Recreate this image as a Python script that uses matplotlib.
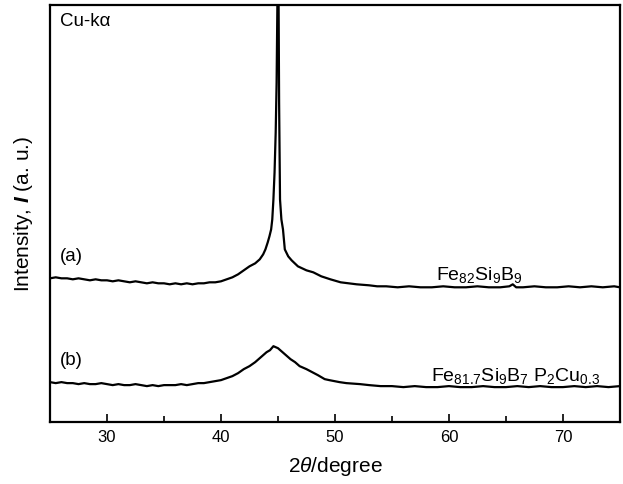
import matplotlib
matplotlib.use("Agg")
import matplotlib.pyplot as plt
from matplotlib.ticker import MultipleLocator

plt.rcParams["font.family"] = ["Liberation Sans", "DejaVu Sans"]
plt.rcParams["mathtext.fontset"] = "custom"
plt.rcParams["mathtext.rm"] = "Liberation Sans"
plt.rcParams["mathtext.it"] = "Liberation Sans:italic"
plt.rcParams["mathtext.bf"] = "Liberation Sans:bold"
plt.rcParams["mathtext.bfit"] = "Liberation Sans:italic:bold"

# XRD pattern (a): Fe82Si9B9, sharp alpha-Fe (110) peak near 45 deg
two_theta_a = [25.0, 25.5, 26.0, 26.5, 27.0, 27.5, 28.0, 28.5, 29.0, 29.5,
               30.0, 30.5, 31.0, 31.5, 32.0, 32.5, 33.0, 33.5, 34.0, 34.5,
               35.0, 35.5, 36.0, 36.5, 37.0, 37.5, 38.0, 38.5, 39.0, 39.5,
               40.0, 40.5, 41.0, 41.5, 42.0, 42.5, 43.0, 43.4, 43.7, 43.9,
               44.1, 44.25, 44.4, 44.5, 44.6, 44.7, 44.8, 44.88, 44.95, 45.0,
               45.05, 45.1, 45.18, 45.3, 45.44, 45.6, 45.9, 46.2, 46.75, 47.5,
               48.1, 48.8, 49.6, 50.5, 51.9, 53.0, 53.7, 54.5, 55.5, 56.5,
               57.5, 58.5, 59.5, 60.5, 61.5, 62.5, 63.5, 64.5, 65.3, 65.6,
               65.9, 66.5, 67.5, 68.5, 69.5, 70.5, 71.5, 72.5, 73.5, 74.5, 75.0]
intensity_a = [144, 145, 144, 144, 143, 144, 143, 142, 143, 142,
               142, 141, 142, 141, 140, 141, 140, 139, 140, 139,
               139, 138, 139, 138, 139, 138, 139, 139, 140, 140,
               141, 143, 145, 148, 152, 156, 159, 163, 168, 173,
               180, 186, 193, 203, 223, 250, 290, 340, 420, 560,
               430, 320, 223, 203, 193, 173, 166, 162, 156, 152,
               150, 146, 143, 140, 138, 137, 136, 136, 135, 136,
               135, 135, 136, 135, 135, 136, 135, 135, 136, 138,
               135, 135, 136, 135, 135, 136, 135, 136, 135, 136, 135]

# XRD pattern (b): Fe81.7Si9B7P2Cu0.3, broad amorphous halo
two_theta_b = [25.0, 25.5, 26.0, 26.5, 27.0, 27.5, 28.0, 28.5, 29.0, 29.5,
               30.0, 30.5, 31.0, 31.5, 32.0, 32.5, 33.0, 33.5, 34.0, 34.5,
               35.0, 35.5, 36.0, 36.5, 37.0, 37.5, 38.0, 38.5, 39.0, 39.5,
               40.0, 40.5, 41.0, 41.5, 42.0, 42.5, 43.0, 43.5, 44.0, 44.3,
               44.6, 44.8, 45.0, 45.4, 45.8, 46.1, 46.5, 46.9, 47.5, 48.0,
               48.5, 49.1, 49.5, 50.4, 51.0, 52.2, 53.0, 54.0, 55.0, 56.0,
               57.0, 58.0, 59.0, 60.0, 61.0, 62.0, 63.0, 64.0, 65.0, 66.0,
               67.0, 68.0, 69.0, 70.0, 71.0, 72.0, 73.0, 74.0, 75.0]
intensity_b = [40, 39, 40, 39, 39, 38, 39, 38, 38, 39,
               38, 37, 38, 37, 37, 38, 37, 36, 37, 36,
               37, 37, 37, 38, 37, 38, 39, 39, 40, 41,
               42, 44, 46, 49, 53, 56, 60, 65, 70, 72,
               76, 75, 74, 70, 66, 63, 60, 56, 53, 50,
               47, 43, 42, 40, 39, 38, 37, 36, 36, 35,
               36, 35, 35, 36, 35, 35, 36, 35, 35, 36,
               35, 36, 35, 35, 36, 35, 36, 35, 36]

major_ticks = [30, 40, 50, 60, 70]

fig = plt.figure(figsize=(6.23, 4.84), dpi=100)
ax = fig.add_axes([0.0803, 0.128, 0.9147, 0.862])

ax.plot(two_theta_a, intensity_a, color="black", lw=1.6)
ax.plot(two_theta_b, intensity_b, color="black", lw=1.6)

ax.set_xlim(25, 75)
ax.set_ylim(0, 418)
ax.set_xticks(major_ticks)
ax.xaxis.set_minor_locator(MultipleLocator(5))
ax.set_yticks([])
ax.tick_params(axis="x", which="both", direction="in", top=False,
               labelsize=12, pad=6, width=1.2)
ax.tick_params(axis="x", which="major", length=6)
ax.tick_params(axis="x", which="minor", length=4)
for sp in ax.spines.values():
    sp.set_linewidth(1.6)

ax.set_xlabel(r"2$\theta$/degree", fontsize=15, labelpad=7)
ax.set_ylabel(r"Intensity, $\mathbfit{I}$ (a. u.)", fontsize=15, labelpad=11)

ax.text(25.9, 401, "Cu-kα", fontsize=13.5, va="center")
ax.text(25.9, 166, "(a)", fontsize=13.5, va="center")
ax.text(25.9, 62, "(b)", fontsize=13.5, va="center")
ax.text(58.9, 142, r"Fe$_{82}$Si$_9$B$_9$", fontsize=14, va="baseline")
ax.text(58.4, 41, r"Fe$_{81.7}$Si$_9$B$_7$ P$_2$Cu$_{0.3}$", fontsize=14,
        va="baseline")

fig.savefig("out.png", dpi=100)
